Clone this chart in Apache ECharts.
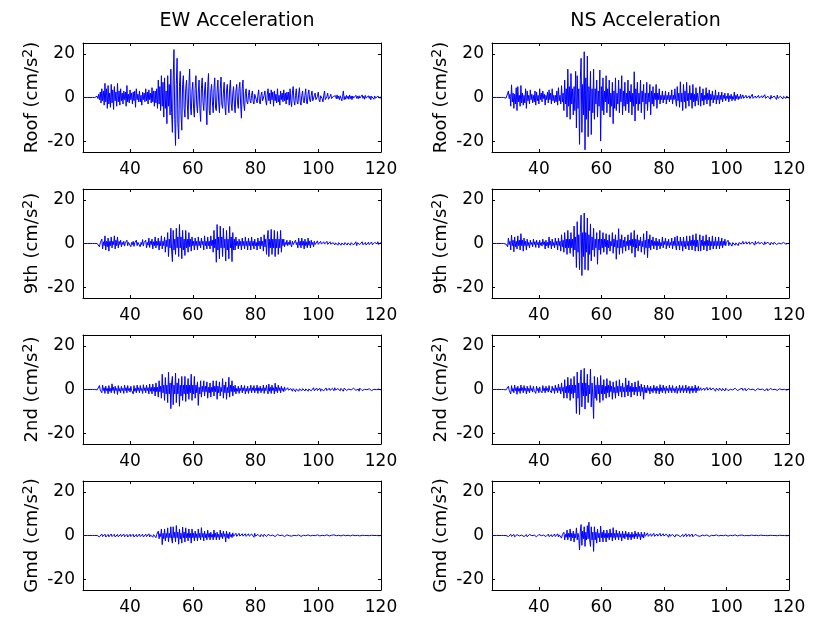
<!DOCTYPE html>
<html>
<head>
<meta charset="utf-8">
<script src="https://cdn.jsdelivr.net/npm/echarts@6/dist/echarts.min.js"></script>
<style>
html,body{margin:0;padding:0;background:#fff;}
#chart{width:813px;height:620px;}
</style>
</head>
<body>
<div id="chart"></div>
<script>
// ---- data ----
const columnTitles = ['EW Acceleration', 'NS Acceleration'];
const rowLabels = ['Roof', '9th', '2nd', 'Gmd'];
const xTicks = [40, 60, 80, 100, 120];
const yTicks = [-20, 0, 20];
const xRange = [25, 120];
const yRange = [-25, 25];
const tStart = 25;    // time of first sample (s)
const tStep = 0.25;   // sample spacing (s)

const ewRoof = [
0,0,0,0, 0,0,0,0, 0,0,0,0, 0,0,0,0, 0.3,-0.4,0.6,-0.5,
1.5,-1,2.5,-2.5, 4,-1.5,3,-3.5, 6.5,-2,4,-5, 5.5,-3,2,-4.5, 6,-2.5,3.5,-5.5, 5,-1.5,2.5,-4, 6.5,-2,3,-3.5,
4,-1.5,2,-3, 3,-1,2.5,-4, 5.5,-2,1.5,-2.5, 3.5,-1,2,-3, 2.5,-1.5,3,-4.5, 4,-1,1.5,-2, 3,-2,1,-3.5, 2.5,-1,2,-2, 4,-1.5,2.5,-3, 3.5,-1,2,-2.5, 4.5,-2,3,-4, 3,-2.5,4,-5,
8,-3,5,-6, 10,-4,7,-9, 9,-5,3,-12, 10,-4,6,-8, 13,-7,
-16,8,22,-10, -22,6,18,-12, -19,5,12,-8, -15,6,10,-5,
-9,4,8,-3, -10,5,13,-4, -8,3,7,-5,
-9,4,10,-3, -7,2,8,-5, -11,4,9,-2, -6,3,7,-4, -12.5,5,11,-6, -8,3,6,-2, -7,4,9,-5,
-6,3,8,-2, -7,4,9.4,-3, -5,2,7,-4, -8,3,6,-2, -7,4,8,-3, -6,2,5,-3,
-7,3,6,-2, -5,4,7,-3, -9.5,4,8,-3, -6,2,4,-2,
-3,1,3.5,-1.5, -2.5,1,3,-2, -3,1.5,2,-1, -2.5,1,3.5,-2, -3,1,2.5,-1.5, -2,1,3,-1.5, -3.5,1.5,
4,-1.5,2,-3, 3.5,-1,2.5,-4, 3,-1.5,1.5,-2.5, 4,-2,1,-3.5, 3,-1,2,-2, 3.5,-1.5,2,-3, 2.5,-1,2.5,-3.5, 4,-1.5,
-4.2,2,5,-1.5, -3.5,1,4,-2, -3,1.5,4.5,-2, -3.5,1,3,-1.5, -2.5,1,4,-2, -3,1.5,3.5,-1, -2,1,3,-1.5,
-2,0.8,2,-1, -1.5,0.5,2.5,-1, -2,0.8,1.5,-0.5, -2,1,3,-1, -1.5,0.5,2,-0.8, -1.5,0.5,1.5,-0.5, -1,0.5,
1,-0.4,0.8,-0.6, 1.2,-0.5,0.6,-1, 0.8,-0.3,-1.5,0.5, 3,-1,0.5,-0.8, 1,-0.4,0.6,-0.8, 1.2,-0.5,0.7,-1, 0.7,-0.3,0.5,-1, 1,-0.4,0.6,-0.6, 0.8,-0.3,0.5,-1, 1.2,-0.4,0.6,-0.8, 1,-0.3,0.5,-0.7, 0.8,-0.4,0.6,-1, 0.6,-0.3,0.5,-0.8, 0.7,-0.3,0.4,-0.5, 0.6,-0.3,0.4,-0.4, 0.5
];
const nsRoof = [
0,0,0,0, 0,0,0,0, 0,0,0,0, 0,0,0,0, 0,0.3,-0.3,0.5,
-1,3,-0.5,1.5, -4,5.8,-2,2, -5,1.5,-3,4.5, -6,5,-2,1, -4,5.5,-2.5,2, -3.5,1,-2.5,4, -5,3,-1.5,1,
-3,3.5,-1,1.5, -2.5,1,-2,3, -3.5,2.5,-1.5,1, -3,4,-1,2, -2,3,-0.5,1.5, -3.5,1,-1,2.5, -2.5,3.5,-1,2, -3,4,-1.5,1, -2.5,1,-2,3, -3.5,4.5,-1.5,1, -3,5.4,-2,2, -6,8,-3,4,
-9,13,-4,5, -10,11,-3,4, -8,5,-6,12, -14,10,-5,4, -21.5,8,
18,-16,6,-8, 21,-24,9,-10, 19,-18,5,-6, 12,-17,4,-7,
13,-10,4,-3, 8,-9,3,-4, 12.6,-20,5,-6,
9,-8,3,-2, 10,-7,4,-3, 8,-9,2,-4, 7,-12,3,-5, 9,-6,2,-3, 8,-7,4,-2, 10,-8,3,-4,
7,-6,2,-3, 8,-7,3,-2, 6,-8,2,-4, 11.8,-10.8,4,-3, 7,-6,2,-3, 8,-7,3,-2,
6,-10,2,-3, 7,-6,2,-2, 6,-8,3,-3, 5,-4,2,-1,
6,-5,2,-1, 4,-3,1,-1, 3,-2.5,1,-1, 3,-3,1,-1, 2.5,-2,1,-1, 3.5,-3,1,-1, 4,-1,
-4,5,-1.5,2, -4.5,7.2,-2,2, -6,6,-2,3, -5,7,-1.5,2, -4,5.5,-1,2, -5,6,-2,1.5, -4,4.5,-1.5,2, -3.5,1,
5,-4,2,-1.5, 4,-3.5,1,-1, 4.5,-3,2,-1, 3.5,-4,1.5,-1, 3,-2.5,1,-1, 3.5,-3,1,-1, 2.5,-3,1,-1,
2.5,-2,1,-0.5, 2,-1.5,0.5,-0.5, 2,-2,0.8,-0.5, 1.5,-1.5,0.5,-0.8, 2.5,-1.5,1,-0.5, 1.5,-1,0.5,-0.5, 1.5,-0.5,
-1,1.2,-0.4,0.5, -0.8,1,-0.3,0.4, -1.2,0.8,-0.5,0.3, -1,1.5,-0.4,0.5, -1,0.7,-0.3,0.4, -0.8,1,-0.3,0.4, -0.6,0.8,-0.2,0.3, -1,1.3,-0.4,0.5, -0.7,0.6,-0.3,0.2, -0.8,1,-0.3,0.4, -0.6,0.7,-0.2,0.3, -0.9,1.1,-0.4,0.4, -0.5,0.6,-0.2,0.3, -0.7,0.5,-0.3,0.2, -0.4,0.6,-0.2,0.2, -0.3
];
const ew9th = [
0,0,0,0, 0,0,0,0, 0,0,0,0, 0,0,0,0, 0,0,0,0,
0.8,-1.5,0.3,-0.5, 2,-2.5,0.8,-1, 3.5,-3,1,-1.5, 2.5,-3.5,1,-1, 3,-2,1,-0.5, 3.5,-2.5,1.5,-1, 3,-2,1,-0.5,
1.5,-1.5,0.5,-0.5, 1,-1.2,0.3,-0.5, 1.5,-1,0.5,-0.3, 1.2,-1.5,0.5,-0.5, 1,-1.3,0.3,-0.5, 1.5,-1,0.5,-0.4, 1.2,-1.5,0.5,-0.5, 1.8,-1.2,0.5,-0.4, 1.5,-2,0.5,-0.8, 2.5,-1.8,1,-0.5, 2,-2.5,0.8,-1, 3,-2,1,-0.8,
2.5,-3,1,-1, 3.5,-2.5,1,-1, 3,-4,1.5,-1.5, 5,-6,2,-2, 7,-3,
-8.3,6,-3,2, -5,7,-2,3, -6,8.7,-2,3, -7,6,-3,2,
-5.5,6,-2,2, -4,5,-1.5,2, -3.5,3,-1,1,
-3,2.5,-1,1, -3,3,-1,1, -2,2.5,-0.5,1, -3,3.5,-1,1, -2.5,3,-1,1, -2.5,3.5,-1,1.5, -4,6,-2,2,
-8.6,8.7,-3,3, -7,8,-2,3, -6,7,-2,2, -8,6,-3,2, -7,7.8,-2,3, -8.3,5,-3,2,
-3,3,-1,1, -2.5,2,-1,1, -3,2.5,-1,1, -2.5,3,-1,1,
-3,2.5,-1,1, -3,3,-1,1, -2.5,2,-1,0.5, -3,2.5,-1,1, -2.5,3,-1,1, -3.5,4,-1.5,2, -5,2,
6,-6,2,-2, 6.5,-5,2,-2, 6,-6,2,-2, 5.5,-5,2,-2, 6,-4,2,-1, 2,-1.5,0.5,-0.5, 1.5,-1,0.5,-0.5, 1.5,-0.5,
-1.5,1,-0.5,0.3, -1.2,1.5,-0.5,0.5, -2,2.5,-0.8,1, -2,2.5,-0.8,1, -2.5,2,-1,0.8, -2,2.5,-0.8,1, -2,1.5,-0.5,0.5,
-1.5,1,-0.5,0.3, -1,1.2,-0.4,0.4, -0.8,1,-0.3,0.4, -1,0.8,-0.3,0.3, -1,1,-0.4,0.3, -0.7,0.8,-0.3,0.3, -1,0.4,
0.8,-0.7,0.3,-0.3, 1,-0.8,0.4,-0.3, 0.6,-0.8,0.2,-0.3, 1,-0.6,0.4,-0.2, 0.8,-0.7,0.3,-0.3, 1,-0.8,0.4,-0.3, 0.6,-0.7,0.2,-0.3, 0.8,-1,0.3,-0.4, 0.6,-0.5,0.2,-0.2, 0.8,-0.6,0.3,-0.2, 0.5,-0.7,0.2,-0.3, 0.6,-0.5,0.2,-0.2, 0.7,-0.6,0.3,-0.2, 0.5,-0.4,0.2,-0.2, 0.8,-0.5,0.3,-0.2, 0.6
];
const ns9th = [
0,0,0,0, 0,0,0,0, 0,0,0,0, 0,0,0,0, 0,0.3,-0.3,0.5,
-1.5,2.5,-0.5,1, -3,3.8,-1,1.5, -3.8,3,-1.5,1, -2.5,3.5,-1,1.5, -3,4.5,-1,1.5, -3.5,2.5,-1,1, -3,2,-1,0.5,
-2,1.5,-0.5,0.5, -1.5,2,-0.5,0.8, -1.8,1.5,-0.5,0.5, -2,1.5,-0.8,0.5, -1.2,2,-0.5,0.8, -2.5,1.5,-1,0.5, -2,3,-0.8,1, -2.5,2,-1,0.5, -2,2.5,-0.8,1, -3,2.5,-1,1, -3.5,4,-1.5,1.5, -4,5,-2,2,
-5,6,-2,2, -4.5,5,-2,2, -6,8,-3,3, -11,10,-4,4, -12,5,
13,-14.7,5,-6, 14,-12,5,-4, 11.7,-12.3,4,-5, 9,-8,3,-3,
7,-6,2,-2, 5,-9.5,2,-3, 6,-5,2,-2,
5,-4,2,-1.5, 4.5,-5,1.5,-2, 4,-3.5,1,-1, 5,-4.5,2,-1.5, 4,-7.2,1.5,-2, 6.8,-5,2,-2, 4,-4.5,1.5,-1.5,
3,-3.5,1,-1, 4,-3,1.5,-1, 5,-4.5,2,-1.5, 6,-6.3,2,-2, 4,-3.5,1.5,-1, 3,-4,1,-1.5,
4.5,-5,1.5,-2, 5.7,-6.5,2,-2, 4,-3,1.5,-1, 3,-2.5,1,-1,
2.5,-3,1,-1, 2,-2.5,0.5,-1, 3,-2,1,-0.5, 2.5,-2.5,1,-1, 2,-2,0.5,-0.8, 2.5,-2.5,1,-1, 3,-1,
-3,3.5,-1,1, -3,3,-1,1, -3.5,3,-1.5,1, -2.5,3.5,-1,1, -3,3.5,-1,1.5, -3,4,-1,1.5, -3.5,4.5,-1.5,1.5, -3.5,1,
4,-3.5,1.5,-1, 3.5,-3,1,-1, 4,-3.5,1.5,-1, 3,-3,1,-1, 3.5,-2.5,1,-1, 3,-2.5,1,-1, 3,-2.5,1,-1,
2.5,-2,1,-0.8, 2,-1,0.5,-0.4, 1.5,-1,0.5,-0.3, 1,-1.2,0.4,-0.4, 1,-0.8,0.3,-0.3, 1,-1,0.4,-0.3, 0.8,-0.3,
-0.8,1,-0.3,0.4, -0.7,0.8,-0.3,0.3, -1,0.8,-0.4,0.3, -0.6,0.7,-0.2,0.3, -0.8,1,-0.3,0.4, -0.6,0.8,-0.2,0.3, -0.7,0.5,-0.3,0.2, -0.6,0.8,-0.2,0.3, -0.5,0.6,-0.2,0.2, -0.7,0.5,-0.3,0.2, -0.4,0.6,-0.2,0.2, -0.5,0.4,-0.2,0.2, -0.6,0.5,-0.2,0.2, -0.4,0.5,-0.2,0.2, -0.3,0.4,-0.1,0.1, -0.3
];
const ew2nd = [
0,0,0,0, 0,0,0,0, 0,0,0,0, 0,0,0,0, 0,0.2,-0.2,0.3,
-0.8,1.8,-0.3,0.5, -1.5,2,-0.5,0.8, -1.8,1.5,-0.5,0.5, -2,1.8,-0.8,0.5, -1.5,2.6,-0.5,1, -1.8,1.5,-0.5,0.5, -2.3,1.8,-0.8,0.5,
-1.5,1.5,-0.5,0.5, -1.8,2,-0.5,0.8, -1.5,1.8,-0.5,0.5, -1.2,1.5,-0.4,0.5, -2,1.8,-0.8,0.5, -1.5,2,-0.5,0.8, -1.5,1.8,-0.5,0.5, -1.8,2.2,-0.5,0.8, -1.5,2,-0.5,0.8, -2,2.5,-0.8,1, -2,2.5,-0.8,1, -3,3,-1,1,
-3.5,4,-1,1.5, -4,7,-1.5,2, -5,5.5,-2,2, -6,7.9,-2,3, -8.8,3,
6,-7,2,-2, 7.5,-6,3,-2, 5,-7.7,2,-3, 6,-5,2,-2,
6,-5.5,2,-2, 5,-4.5,2,-1.5, 7,-5,2,-2,
6,-4,2,-1.5, 3.5,-7.3,1,-2, 4,-3.5,1.5,-1, 4,-3,1.5,-1, 3.5,-4,1,-1.5, 3,-3.5,1,-1, 4,-3,1.5,-1,
4,-4.5,1.5,-1.5, 3.5,-3,1,-1, 5,-4,2,-1.5, 3.5,-4.5,1,-1.5, 5.6,-3.5,2,-1, 4,-3,1.5,-1,
2,-2,0.5,-0.8, 1.5,-1.8,0.5,-0.5, 2,-1.5,0.8,-0.5, 1.8,-2,0.5,-0.8,
1.5,-1.8,0.5,-0.5, 2,-1.5,0.8,-0.5, 1.8,-1.5,0.5,-0.5, 2,-1.8,0.8,-0.5, 1.5,-1.5,0.5,-0.5, 2,-1.8,0.8,-0.5, 2,-0.8,
-2,2.5,-0.8,1, -1.8,2,-0.5,0.8, -2,2.9,-0.8,1, -1.5,2,-0.5,0.8, -1.5,1.5,-0.5,0.5, -1,1.2,-0.4,0.4, -1,0.8,-0.3,0.3, -1,0.4,
1,-0.8,0.4,-0.3, 0.8,-1,0.3,-0.4, 0.7,-0.8,0.3,-0.3, 1,-0.6,0.4,-0.2, 0.8,-0.7,0.3,-0.3, 0.6,-0.8,0.2,-0.3, 0.7,-0.6,0.3,-0.2,
0.8,-0.6,0.3,-0.2, 0.7,-0.5,0.3,-0.2, 0.6,-0.8,0.2,-0.3, 0.5,-0.6,0.2,-0.2, 0.7,-0.5,0.3,-0.2, 0.6,-0.4,0.2,-0.2, 0.5,-0.2,
-0.6,0.8,-0.2,0.3, -0.5,0.4,-0.2,0.2, -0.6,0.5,-0.2,0.2, -0.8,0.6,-0.3,0.2, -0.4,0.5,-0.2,0.2, -0.6,0.4,-0.2,0.2, -0.5,0.6,-0.2,0.2, -0.4,0.5,-0.2,0.2, -0.8,0.6,-0.3,0.2, -0.5,0.4,-0.2,0.1, -0.3,0.5,-0.1,0.2, -0.4,0.3,-0.1,0.1, -0.5,0.4,-0.2,0.1, -0.3,0.4,-0.1,0.1, -0.3,0.2,-0.1,0.1, -0.2
];
const ns2nd = [
0,0,0,0, 0,0,0,0, 0,0,0,0, 0,0,0,0, 0,0.2,-0.2,0.3,
-1,1.5,-0.4,0.5, -2,1.8,-0.8,0.5, -1.5,2,-0.5,0.8, -2.2,1.5,-0.8,0.5, -1.8,2,-0.5,0.8, -1.5,1.8,-0.5,0.5, -2,1.5,-0.8,0.5,
-1.5,1.8,-0.5,0.5, -1.2,1.5,-0.4,0.5, -1.8,1.5,-0.5,0.5, -1.5,1.2,-0.5,0.4, -1.5,1.8,-0.5,0.5, -1.5,1.5,-0.5,0.5, -1.2,1.8,-0.4,0.5, -1.5,1.5,-0.5,0.5, -1.8,2,-0.5,0.8, -1.5,2.5,-0.5,1, -2,3,-0.8,1, -4,4.5,-1.5,1.5,
-4,5.6,-1.5,2, -5,5,-2,2, -4,6,-1.5,2, -11,8,-4,3, -11.5,4,
9,-8,3,-3, 9.7,-9,3,-3, 7,-6,2,-2, 9.4,-8,3,-3,
-13.3,6,-4,2, -5,5.5,-2,2, -6,6.4,-2,2,
-5,4.5,-2,1.5, -4,5,-1.5,2, -3.5,4,-1,1.5, -4.5,3.5,-1.5,1, -4,4,-1.5,1.5, -3,4.5,-1,1.5, -3.5,3,-1,1,
-3.5,5.3,-1,2, -3,4,-1,1.5, -3.5,3,-1,1, -2.5,3.5,-1,1, -3,4,-1,1.5, -3,2.5,-1,1,
-4.5,2,-1.5,0.8, -1.5,2,-0.5,0.8, -2,1.5,-0.8,0.5, -1.5,2,-0.5,0.8,
-1.8,1.5,-0.5,0.5, -2,2.2,-0.8,0.8, -1.5,2,-0.5,0.8, -1.8,1.5,-0.5,0.5, -1.5,2,-0.5,0.8, -1.5,1.8,-0.5,0.5, -1.5,0.5,
1.5,-1.8,0.5,-0.5, 2,-1.5,0.8,-0.5, 1.8,-1.5,0.5,-0.5, 2,-1.5,0.8,-0.5, 1.5,-1.8,0.5,-0.5, 1.5,-1.5,0.5,-0.5, 2,-1.5,0.8,-0.5, 1.5,-0.5,
-1,0.8,-0.4,0.3, -1,0.7,-0.4,0.3, -0.8,1,-0.3,0.4, -0.6,0.8,-0.2,0.3, -0.7,0.6,-0.3,0.2, -0.8,0.6,-0.3,0.2, -0.5,0.7,-0.2,0.3,
-0.6,0.5,-0.2,0.2, -0.7,0.6,-0.3,0.2, -0.5,0.4,-0.2,0.1, -0.6,0.5,-0.2,0.2, -0.4,0.6,-0.1,0.2, -0.5,0.4,-0.2,0.1, -0.5,0.2,
0.6,-0.4,0.2,-0.1, 0.5,-0.6,0.2,-0.2, 0.4,-0.3,0.1,-0.1, 0.5,-0.4,0.2,-0.1, 0.6,-0.5,0.2,-0.2, 0.4,-0.3,0.1,-0.1, 0.5,-0.4,0.2,-0.1, 0.3,-0.5,0.1,-0.2, 0.4,-0.6,0.1,-0.2, 0.5,-0.3,0.2,-0.1, 0.4,-0.3,0.1,-0.1, 0.5,-0.4,0.2,-0.1, 0.3,-0.2,0.1,-0.1, 0.4,-0.3,0.1,-0.1, 0.2,-0.3,0.1,-0.1, 0.2
];
const ewGmd = [
0,0,0,0, 0,0,0,0, 0,0,0,0, 0,0,0,0, 0,0,0,0,
0.5,-0.6,0.2,-0.2, 0.7,-0.5,0.3,-0.2, 0.6,-0.7,0.2,-0.3, 0.5,-0.6,0.2,-0.2, 0.7,-0.5,0.3,-0.2, 0.6,-0.7,0.2,-0.3, 0.5,-0.6,0.2,-0.2,
0.6,-0.5,0.2,-0.2, 0.7,-0.6,0.3,-0.2, 0.5,-0.7,0.2,-0.3, 0.6,-0.5,0.2,-0.2, 0.6,-0.7,0.2,-0.3, 0.5,-0.6,0.2,-0.2, 0.7,-0.5,0.3,-0.2, 0.6,-0.7,0.2,-0.3, 0.6,-0.5,0.2,-0.2, 0.8,-0.7,0.3,-0.3, 1,-0.8,0.4,-0.3, 1.2,-1,0.5,-0.4,
2,-1.5,0.8,-0.5, 3,-4.2,1,-1.5, 3,-2.5,1,-1, 3.5,-3,1,-1, 4,-1.5,
-3.5,4,-1,1.5, -3,4.6,-1,1.5, -4,3,-1.5,1, -3.5,3.9,-1,1.5,
-3,3.5,-1,1, -2.5,3,-1,1, -3.5,3,-1,1,
-2.5,2,-1,0.8, -2.5,3,-1,1, -2,3.6,-0.8,1, -2.5,2,-1,0.8, -2,2.5,-0.8,1, -2,1.5,-0.8,0.5, -2,2.5,-0.8,1,
-2,1.5,-0.8,0.5, -2,2.5,-0.8,1, -1.5,2,-0.5,0.8, -3,2,-1,0.8, -1.5,1.5,-0.5,0.5, -1,1.2,-0.4,0.4,
-1,1,-0.4,0.4, -0.8,1,-0.3,0.4, -0.8,0.8,-0.3,0.3, -1,0.8,-0.4,0.3,
-0.7,0.8,-0.3,0.3, -0.6,0.7,-0.2,0.3, -0.8,1,-0.3,0.4, -0.6,0.5,-0.2,0.2, -0.6,0.5,-0.2,0.2, -0.5,0.6,-0.2,0.2, -0.5,0.2,
0.5,-0.4,0.2,-0.1, 0.6,-0.5,0.2,-0.2, 0.4,-0.5,0.1,-0.2, 0.5,-0.4,0.2,-0.1, 0.5,-0.3,0.2,-0.1, 0.4,-0.5,0.1,-0.2, 0.3,-0.4,0.1,-0.1, 0.5,-0.2,
-0.3,0.4,-0.1,0.1, -0.3,0.5,-0.1,0.2, -0.4,0.3,-0.1,0.1, -0.4,0.3,-0.1,0.1, -0.3,0.4,-0.1,0.1, -0.3,0.3,-0.1,0.1, -0.2,0.3,-0.1,0.1,
-0.3,0.2,-0.1,0.1, -0.3,0.3,-0.1,0.1, -0.2,0.3,-0.1,0.1, -0.2,0.2,-0.1,0.1, -0.3,0.3,-0.1,0.1, -0.2,0.2,-0.1,0.1, -0.2,0.1,
0.3,-0.2,0.1,-0.1, 0.2,-0.2,0.1,-0.1, 0.3,-0.2,0.1,-0.1, 0.2,-0.2,0.1,-0.1, 0.2,-0.3,0.1,-0.1, 0.5,-0.2,0.2,-0.1, 0.2,-0.2,0.1,-0.1, 0.2,-0.1,0.1,0, 0.2,-0.2,0.1,-0.1, 0.1,-0.1,0.1,0, 0.1,-0.1,0,0, 0.1,-0.1,0,0, 0.1,-0.1,0,0, 0.1,-0.1,0,0, 0.1,-0.1,0,0, 0
];
const nsGmd = [
0,0,0,0, 0,0,0,0, 0,0,0,0, 0,0,0,0, 0,0,0,0,
0.2,-0.5,0.1,-0.2, 0.6,-0.4,0.2,-0.1, 0.5,-0.6,0.2,-0.2, 0.4,-0.5,0.1,-0.2, 0.6,-0.4,0.2,-0.1, 0.5,-0.5,0.2,-0.2, 0.4,-0.6,0.1,-0.2,
0.5,-0.4,0.2,-0.1, 0.6,-0.5,0.2,-0.2, 0.4,-0.6,0.1,-0.2, 0.5,-0.4,0.2,-0.1, 0.5,-0.6,0.2,-0.2, 0.4,-0.5,0.1,-0.2, 0.6,-0.5,0.2,-0.2, 0.4,-0.6,0.1,-0.2, 0.7,-0.5,0.3,-0.2, 0.8,-0.7,0.3,-0.3, 1,-1.2,0.4,-0.4, 1.5,-2,0.5,-0.8,
2.5,-2,1,-0.8, 3,-2.5,1,-1, 2,-3,0.8,-1, 3.5,-2,1,-0.8, -6.6,2,
5,-4.5,2,-1.5, 4,-5,1.5,-2, 4.5,-1.5,6.1,-2, -5,4,-2,1.5,
-7.3,4,-2,1.5, -3.5,3,-1,1, -3,4.3,-1,1.5,
-3,2.5,-1,1, -3,2.5,-1,1, -2,3,-0.8,1, -2.5,3.6,-1,1, -2,2.5,-0.8,1, -2,2,-0.8,0.8, -2.5,2,-1,0.8,
-1.5,2,-0.5,0.8, -2,1.5,-0.8,0.5, -2,1.5,-0.8,0.5, -1.5,2,-0.5,0.8, -1.5,1.5,-0.5,0.5, -2,1.5,-0.8,0.5,
-1.2,1.5,-0.4,0.5, -1,1.2,-0.4,0.4, -1,0.8,-0.4,0.3, -1,1,-0.4,0.4,
-0.8,0.7,-0.3,0.3, -0.8,1,-0.3,0.4, -0.6,0.8,-0.2,0.3, -0.7,0.6,-0.3,0.2, -0.8,0.7,-0.3,0.3, -0.6,0.5,-0.2,0.2, -0.7,0.3,
0.6,-0.5,0.2,-0.2, 0.7,-0.6,0.3,-0.2, 0.5,-0.6,0.2,-0.2, 0.8,-0.5,0.3,-0.2, 0.6,-0.5,0.2,-0.2, 0.7,-0.6,0.3,-0.2, 0.5,-0.4,0.2,-0.1, 0.5,-0.2,
-0.4,0.5,-0.1,0.2, -0.3,0.4,-0.1,0.1, -0.5,0.3,-0.2,0.1, -0.4,0.3,-0.1,0.1, -0.3,0.4,-0.1,0.1, -0.3,0.3,-0.1,0.1, -0.2,0.3,-0.1,0.1,
-0.2,0.3,-0.1,0.1, -0.2,0.2,-0.1,0.1, -0.3,0.2,-0.1,0.1, -0.2,0.2,-0.1,0.1, -0.2,0.3,-0.1,0.1, -0.2,0.2,-0.1,0.1, -0.2,0.1,
0.2,-0.2,0.1,-0.1, 0.1,-0.2,0,0.1, 0.2,-0.1,0.1,0, 0.2,-0.1,0.1,0, 0.3,-0.2,0.1,-0.1, 0.1,-0.1,0,0, 0.2,-0.1,0.1,0, 0.1,-0.1,0,0, 0.2,-0.1,0.1,0, 0.1,-0.1,0,0, 0.1,-0.1,0,0, 0.1,-0.1,0,0, 0.1,-0.1,0,0, 0.1,-0.1,0,0, 0.1,-0.1,0,0, 0
];

// rows x columns of series
const seriesGrid = [
  [ewRoof, nsRoof],
  [ew9th, ns9th],
  [ew2nd, ns2nd],
  [ewGmd, nsGmd]
];

// ---- layout ----
const FONT = 'DejaVu Sans';
const colLeft = [83, 492];
const colWidth = [298, 297];
const rowTop = [43, 189, 335, 481];
const panelH = 109;

const grids = [], xAxes = [], yAxes = [], series = [];
let k = 0;
for (let r = 0; r < 4; r++) {
  for (let c = 0; c < 2; c++) {
    grids.push({ left: colLeft[c], top: rowTop[r], width: colWidth[c], height: panelH, containLabel: false });
    const axLine = { show: true, onZero: false, lineStyle: { color: '#000', width: 1 } };
    const tick = (vals) => ({ show: true, inside: true, length: 3, customValues: vals, lineStyle: { color: '#000', width: 1 } });
    xAxes.push({
      type: 'value', gridIndex: k, min: xRange[0], max: xRange[1], position: 'bottom',
      axisLine: axLine, axisTick: tick(xTicks), splitLine: { show: false },
      axisLabel: { customValues: xTicks, margin: 9, color: '#000', fontSize: 17, fontFamily: FONT }
    });
    xAxes.push({
      type: 'value', gridIndex: k, min: xRange[0], max: xRange[1], position: 'top',
      axisLine: axLine, axisTick: tick(xTicks), splitLine: { show: false },
      axisLabel: { show: false }
    });
    yAxes.push({
      type: 'value', gridIndex: k, min: yRange[0], max: yRange[1], position: 'left',
      axisLine: axLine, axisTick: tick(yTicks), splitLine: { show: false },
      axisLabel: { customValues: yTicks, margin: 8, color: '#000', fontSize: 17, fontFamily: FONT },
      name: '{a|' + rowLabels[r] + ' (cm/s}{s|2}{a|)}',
      nameLocation: 'middle', nameGap: 40, nameRotate: 90,
      nameTextStyle: {
        rich: {
          a: { fontSize: 18, fontFamily: FONT, color: '#000' },
          s: { fontSize: 14, fontFamily: FONT, color: '#000', verticalAlign: 'top', padding: [0, 0, 8, 0] }
        }
      }
    });
    yAxes.push({
      type: 'value', gridIndex: k, min: yRange[0], max: yRange[1], position: 'right',
      axisLine: axLine, axisTick: tick(yTicks), splitLine: { show: false },
      axisLabel: { show: false }
    });
    const vals = seriesGrid[r][c];
    series.push({
      type: 'line', xAxisIndex: 2 * k, yAxisIndex: 2 * k,
      data: vals.map((v, i) => [tStart + i * tStep, v]),
      showSymbol: false, symbol: 'none', silent: true, clip: true,
      lineStyle: { color: '#0000ff', width: 1 },
      z: 1
    });
    k++;
  }
}

const chart = echarts.init(document.getElementById('chart'), null, { renderer: 'canvas' });
chart.setOption({
  animation: false,
  backgroundColor: '#fff',
  title: columnTitles.map((t, c) => ({
    text: t, left: colLeft[c] + colWidth[c] / 2, top: 7, textAlign: 'center',
    textStyle: { fontSize: 19, fontWeight: 'normal', fontFamily: FONT, color: '#000' }
  })),
  grid: grids,
  xAxis: xAxes,
  yAxis: yAxes,
  series: series
});
</script>
</body>
</html>
